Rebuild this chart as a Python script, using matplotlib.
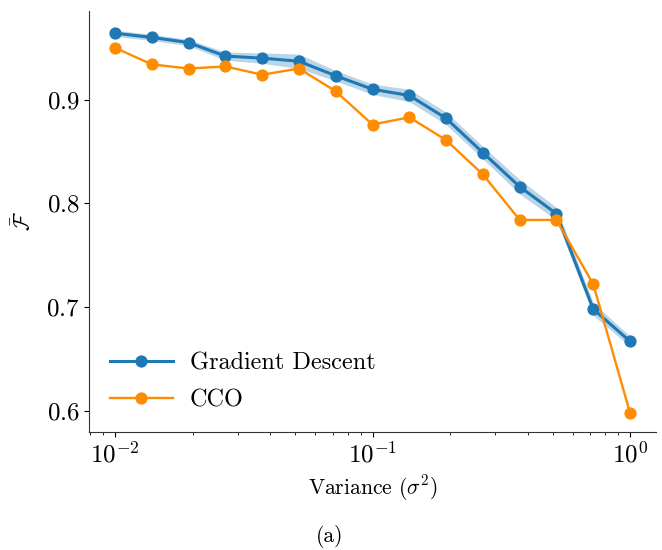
import numpy as np
import matplotlib.pyplot as plt

plt.rcParams['font.family'] = 'cmr10'
plt.rcParams['mathtext.fontset'] = 'cm'
plt.rcParams['axes.formatter.use_mathtext'] = True

# variance values (log spaced, 15 points)
variance = [0.01, 0.0139, 0.0193, 0.0268, 0.0373, 0.0518, 0.0720,
            0.1, 0.139, 0.193, 0.268, 0.373, 0.518, 0.720, 1.0]

gd_mean = [0.964, 0.960, 0.955, 0.942, 0.940, 0.937, 0.923,
           0.910, 0.904, 0.882, 0.849, 0.816, 0.790, 0.698, 0.667]
gd_std = [0.003, 0.003, 0.003, 0.004, 0.005, 0.007, 0.005,
          0.005, 0.006, 0.006, 0.006, 0.007, 0.006, 0.006, 0.005]

cco = [0.950, 0.934, 0.930, 0.932, 0.924, 0.930, 0.908,
       0.876, 0.883, 0.861, 0.828, 0.784, 0.784, 0.722, 0.598]

fig = plt.figure(figsize=(6.62, 5.5), dpi=100)
ax = fig.add_axes([0.1348, 0.2145, 0.8558, 0.7655])

gd_mean = np.array(gd_mean)
gd_std = np.array(gd_std)
ax.fill_between(variance, gd_mean - gd_std, gd_mean + gd_std,
                color='#1f77b4', alpha=0.3, linewidth=0)
ax.plot(variance, gd_mean, '-o', color='#1f77b4', lw=2.2, ms=7.8,
        label='Gradient Descent')
ax.plot(variance, cco, '-o', color='darkorange', lw=1.7, ms=7.8, label='CCO')

ax.set_xscale('log')
ax.set_yticks([0.6, 0.7, 0.8, 0.9])
ax.set_xlabel(r'Variance ($\sigma^2$)', fontsize=15.5)
ax.set_ylabel(r'$\bar{\mathcal{F}}$', fontsize=15.5, labelpad=8)
ax.tick_params(labelsize=18)
for s in ['left', 'bottom']:
    ax.spines[s].set_color('#333333')
ax.spines['top'].set_visible(False)
ax.spines['right'].set_visible(False)
ax.legend(loc='lower left', frameon=False, fontsize=17.5, handlelength=2.6,
          borderaxespad=0.55, borderpad=0.3, labelspacing=0.62,
          handletextpad=0.7)

fig.text(0.4985, 0.024, '(a)', ha='center', va='center', fontsize=15.5)

fig.savefig('out.png', dpi=100)
